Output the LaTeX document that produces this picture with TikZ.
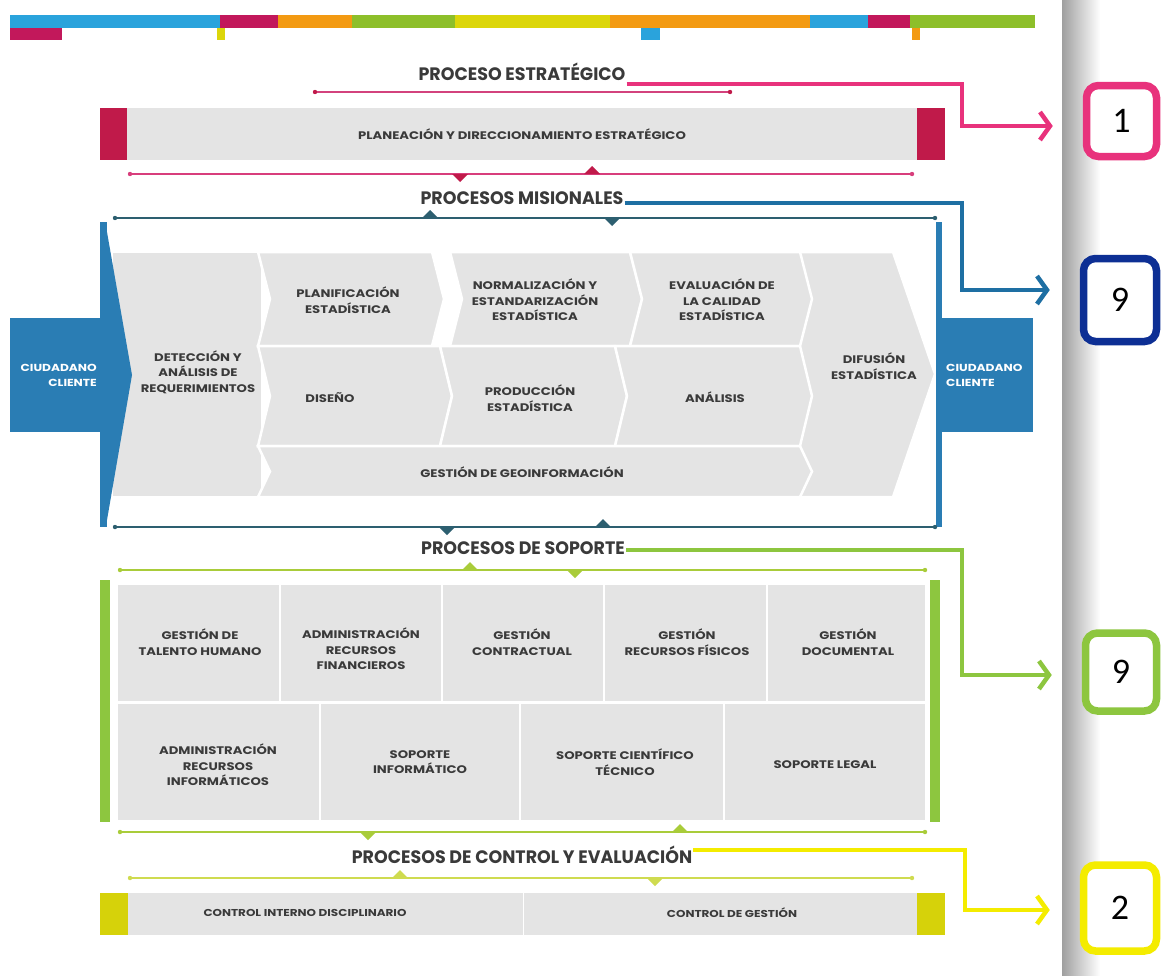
\documentclass[tikz,border=0pt]{standalone}
\usepackage{fontspec}
\setmainfont{Poppins}
\newfontfamily\titf[FakeStretch=0.97]{Poppins}
\newfontfamily\lblf[FakeStretch=1.2]{Poppins}
\newfontfamily\numf{Carlito}
\usetikzlibrary{arrows.meta,calc}
\definecolor{pinkc}{HTML}{E8327C}
\definecolor{crim}{HTML}{C01A4A}
\definecolor{bluec}{HTML}{2A7DB4}
\definecolor{bluecon}{HTML}{1E6FA3}
\definecolor{navy}{HTML}{0D2F94}
\definecolor{tealc}{HTML}{2D5F70}
\definecolor{greenc}{HTML}{8DC63F}
\definecolor{greenl}{HTML}{A9CC3A}
\definecolor{yelc}{HTML}{F4EC00}
\definecolor{yelcap}{HTML}{D6D20A}
\definecolor{yell}{HTML}{CFDB50}
\definecolor{cellg}{HTML}{E4E4E4}
\definecolor{txtc}{HTML}{3A3A3A}
\definecolor{orc}{HTML}{F39A12}
\definecolor{skyc}{HTML}{2AA3DC}
\definecolor{gre2}{HTML}{8DBF2A}
\definecolor{yel2}{HTML}{DCD60A}
\definecolor{crim2}{HTML}{C2185B}
\newcommand{\chevcell}[4]{%
  \filldraw[cellg, draw=white, line width=2.5pt, line join=miter]
    (#1,#3) -- (#2,#3) -- ({#2+12},{(#3+#4)/2}) -- (#2,#4) -- (#1,#4)
    -- ({#1+12},{(#3+#4)/2}) -- cycle;}
\newcommand{\sepline}[7]{%
  \draw[#1, line width=1.4pt] (#2,#4) -- (#3,#4);
  \fill[#1] (#2,#4) circle (2.2pt) (#3,#4) circle (2.2pt);
  \fill[#7] ({#5-8},#4) -- ({#5+8},#4) -- (#5,{#4+8}) -- cycle;
  \fill[#7] ({#6-8},#4) -- ({#6+8},#4) -- (#6,{#4-8}) -- cycle;}
\tikzset{
  ttl/.style={font=\titf\bfseries\fontsize{18}{20}\selectfont, text=txtc, inner sep=1pt},
  lbl/.style={font=\lblf\bfseries\fontsize{11}{15.5}\selectfont, text=txtc, align=center, inner sep=0pt},
  slbl/.style={font=\lblf\bfseries\fontsize{10}{13}\selectfont, text=txtc, inner sep=0pt},
  ctext/.style={font=\lblf\bfseries\fontsize{10.2}{15}\selectfont, text=white, inner sep=0pt},
  numbox/.style={draw=#1, line width=7.5pt, rounded corners=12pt, fill=white,
    font=\numf\fontsize{36}{36}\selectfont, text=black, inner sep=0pt},
  conn/.style={draw=#1, line width=4.5pt, -{Straight Barb[length=10pt,width=28pt]}, shorten >=30pt},
}
\begin{document}
\begin{tikzpicture}[x=1pt,y=-1pt]
\useasboundingbox (0,0) rectangle (1169,975);
\fill[white] (0,0) rectangle (1169,975);
% right shadow strip
\shade[left color=gray!75, right color=white] (1062,0) rectangle (1100,975);
% top colour bar
\fill[skyc] (10,15) rectangle (220,28);
\fill[crim2] (220,15) rectangle (278,28);
\fill[orc] (278,15) rectangle (352,28);
\fill[gre2] (352,15) rectangle (455,28);
\fill[yel2] (455,15) rectangle (610,28);
\fill[orc] (610,15) rectangle (810,28);
\fill[skyc] (810,15) rectangle (868,28);
\fill[crim2] (868,15) rectangle (910,28);
\fill[gre2] (910,15) rectangle (1035,28);
\fill[crim2] (10,28) rectangle (62,40);
\fill[yel2] (217,28) rectangle (225,40);
\fill[skyc] (641,28) rectangle (660,40);
\fill[orc] (912,28) rectangle (920,40);

% ---------- Proceso estrategico
\node[ttl] (t1) at (522,72) {PROCESO ESTRATÉGICO};
\draw[pinkc!80!gray, line width=1.4pt] (315,92) -- (730,92);
\fill[crim] (315,92) circle (2.2pt) (730,92) circle (2.2pt);
\fill[cellg] (127,108) rectangle (917,160);
\fill[crim] (100,108) rectangle (127,160);
\fill[crim] (917,108) rectangle (945,160);
\node[lbl] (pl) at (522,134) {PLANEACIÓN Y DIRECCIONAMIENTO ESTRATÉGICO};
\sepline{pinkc!85!gray}{130}{912}{174}{460}{592}{crim}

% ---------- Procesos misionales
\node[ttl] (t2) at (522,198) {PROCESOS MISIONALES};
\sepline{tealc}{115}{935}{218}{612}{430}{tealc}
% cells
\filldraw[cellg, draw=white, line width=2.5pt] (112,252) rectangle (262,497);
\filldraw[cellg, draw=white, line width=2.5pt] (795,252) -- (893,252) -- (935,374) -- (893,497) -- (795,497) -- cycle;
\chevcell{258}{432}{252}{346}
\chevcell{450}{630}{252}{346}
\chevcell{630}{800}{252}{346}
\chevcell{258}{440}{346}{446}
\chevcell{440}{615}{346}{446}
\chevcell{615}{800}{346}{446}
\chevcell{258}{800}{446}{497}
% blue frame
\fill[bluec] (100,222) rectangle (107,527);
\fill[bluec] (107,232) -- (132,375) -- (107,520) -- cycle;
\fill[bluec] (936,222) rectangle (942,527);
\fill[bluec] (10,318) rectangle (103,432);
\fill[bluec] (942,318) rectangle (1033,432);
\node[ctext, align=right, anchor=east] (cc1) at (97,375) {CIUDADANO\\CLIENTE};
\node[ctext, align=left, anchor=west] (cc2) at (946,375) {CIUDADANO\\CLIENTE};
% labels
\node[lbl] (m1) at (198,372) {DETECCIÓN Y\\ANÁLISIS DE\\REQUERIMIENTOS};
\node[lbl] (m2) at (348,300) {PLANIFICACIÓN\\ESTADÍSTICA};
\node[lbl] (m3) at (535,300) {NORMALIZACIÓN Y\\ESTANDARIZACIÓN\\ESTADÍSTICA};
\node[lbl] (m4) at (722,300) {EVALUACIÓN DE\\LA CALIDAD\\ESTADÍSTICA};
\node[lbl] (m5) at (874,366) {DIFUSIÓN\\ESTADÍSTICA};
\node[lbl] (m6) at (330,398) {DISEÑO};
\node[lbl] (m7) at (530,398) {PRODUCCIÓN\\ESTADÍSTICA};
\node[lbl] (m8) at (715,397) {ANÁLISIS};
\node[lbl] (m9) at (522,472) {GESTIÓN DE GEOINFORMACIÓN};
\sepline{tealc}{115}{935}{527}{447}{603}{tealc}

% ---------- Procesos de soporte
\node[ttl] (t3) at (523,548) {PROCESOS DE SOPORTE};
\sepline{greenl}{120}{925}{570}{575}{470}{greenl}
\fill[greenc] (100,580) rectangle (110,822);
\fill[greenc] (930,580) rectangle (940,822);
\foreach \a/\b in {118/279,281/441,443/603,605/766,768/925}
  \fill[cellg] (\a,585) rectangle (\b,701);
\foreach \a/\b in {118/319,321/519,521/723,725/925}
  \fill[cellg] (\a,704) rectangle (\b,820);
\node[lbl] (s1) at (200,642) {GESTIÓN DE\\TALENTO HUMANO};
\node[lbl] (s2) at (361,649) {ADMINISTRACIÓN\\RECURSOS\\FINANCIEROS};
\node[lbl] (s3) at (522,642) {GESTIÓN\\CONTRACTUAL};
\node[lbl] (s4) at (687,642) {GESTIÓN\\RECURSOS FÍSICOS};
\node[lbl] (s5) at (848,642) {GESTIÓN\\DOCUMENTAL};
\node[lbl] (s6) at (218,765) {ADMINISTRACIÓN\\RECURSOS\\INFORMÁTICOS};
\node[lbl] (s7) at (420,762) {SOPORTE\\INFORMÁTICO};
\node[lbl] (s8) at (625,762) {SOPORTE CIENTÍFICO\\TÉCNICO};
\node[lbl] (s9) at (825,765) {SOPORTE LEGAL};
\sepline{greenl}{120}{925}{832}{368}{680}{greenl}

% ---------- Control y evaluacion
\node[ttl] (t4) at (522,855) {PROCESOS DE CONTROL Y EVALUACIÓN};
\sepline{yell}{130}{912}{878}{655}{400}{yell}
\fill[cellg] (128,893) rectangle (917,935);
\draw[white, line width=1pt] (523,893) -- (523,935);
\fill[yelcap] (100,893) rectangle (128,935);
\fill[yelcap] (917,893) rectangle (945,935);
\node[slbl] (c1) at (305,913) {CONTROL INTERNO DISCIPLINARIO};
\node[slbl] (c2) at (732,913) {CONTROL DE GESTIÓN};

% ---------- number boxes
\node[numbox=pinkc, minimum width=70pt, minimum height=71pt] (b1) at (1121.5,121) {1};
\node[numbox=navy, minimum width=73pt, minimum height=83pt] (b2) at (1120,300) {9};
\node[numbox=greenc, minimum width=71pt, minimum height=78pt] (b3) at (1121,672) {9};
\node[numbox=yelc, minimum width=73pt, minimum height=86pt] (b4) at (1120,908) {2};

% ---------- connectors
\coordinate (k1a) at (962,84);  \coordinate (k1b) at (962,126);
\coordinate (k2a) at (962,203); \coordinate (k2b) at (962,290);
\coordinate (k3a) at (962,550); \coordinate (k3b) at (962,675);
\coordinate (k4a) at (965,850); \coordinate (k4b) at (965,910);
\draw[conn=pinkc] (t1.east |- k1a) -- (k1a) -- (k1b) -- (b1.west |- k1b);
\draw[conn=bluecon] (t2.east |- k2a) -- (k2a) -- (k2b) -- (b2.west |- k2b);
\draw[conn=greenc] (t3.east |- k3a) -- (k3a) -- (k3b) -- (b3.west |- k3b);
\draw[conn=yelc] (t4.east |- k4a) -- (k4a) -- (k4b) -- (b4.west |- k4b);
\end{tikzpicture}
\end{document}
